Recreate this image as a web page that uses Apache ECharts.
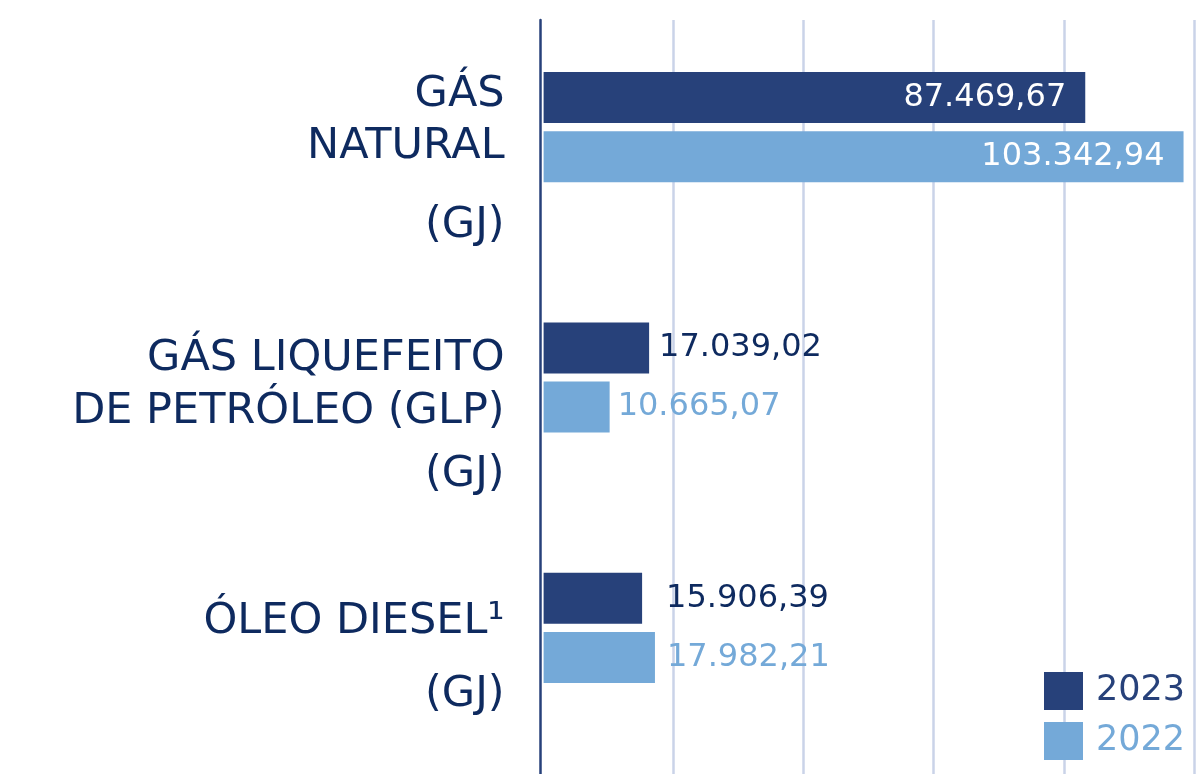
<!DOCTYPE html>
<html>
<head>
<meta charset="utf-8">
<script src="https://cdn.jsdelivr.net/npm/echarts@6/dist/echarts.min.js"></script>
<style>
  html, body { margin: 0; padding: 0; background: #ffffff; }
  #chart { width: 1200px; height: 774px; }
</style>
</head>
<body>
<div id="chart"></div>
<script>
// Fuel consumption by source, in GJ
const categories = ['GÁS\nNATURAL\n(GJ)', 'GÁS LIQUEFEITO\nDE PETRÓLEO (GLP)\n(GJ)', 'ÓLEO DIESEL¹\n(GJ)'];
const seriesNames = ['2023', '2022'];
const values2023 = [87469.67, 17039.02, 15906.39];
const values2022 = [103342.94, 10665.07, 17982.21];

// Value axis scale and background rules
const axisMax = 106000;
const gridInterval = 21000;

const colors = { dark: '#27417A', light: '#74A9D8', text: '#0E2A5F' };
const FONT = 'DejaVu Sans';

// Per-category line heights for the multi-line axis names: [spacer, line heights...]
const nameLayout = [
  { spacer: 94, lines: [52, 52, 107] },
  { spacer: 89, lines: [53, 53, 74] },
  { spacer: 60, lines: [73, 73] }
];
// Gap between a bar end and its value label
const labelGap = [[10, 10, 24], [10, 8, 12]];

function fmtBR(v) {
  const parts = v.toFixed(2).split('.');
  const intPart = parts[0].replace(/\B(?=(\d{3})+(?!\d))/g, '.');
  return intPart + ',' + parts[1];
}

const rich = {};
nameLayout.forEach((l, i) => {
  rich['sp' + i] = { fontSize: 10, lineHeight: l.spacer };
  l.lines.forEach((h, j) => {
    rich['l' + i + '_' + j] = {
      fontFamily: FONT, fontSize: 43, color: colors.text, lineHeight: h, align: 'right'
    };
  });
});

function nameFormatter(value, index) {
  const lines = value.split('\n');
  let s = '{sp' + index + '| }';
  lines.forEach((t, j) => { s += '\n{l' + index + '_' + j + '|' + t + '}'; });
  return s;
}

function buildData(values, si) {
  return values.map((v, i) => {
    const inside = v > 50000;
    return {
      value: v,
      label: inside
        ? { position: 'insideRight', color: '#ffffff', distance: 19 }
        : { position: 'right', color: si === 0 ? colors.text : colors.light, distance: labelGap[si][i] }
    };
  });
}

const chart = echarts.init(document.getElementById('chart'), null, { renderer: 'canvas' });

const series = [values2023, values2022].map((vals, si) => ({
  name: seriesNames[si],
  type: 'bar',
  xAxisIndex: 1,
  yAxisIndex: 1,
  barWidth: 51,
  barGap: '16%',
  itemStyle: { color: si === 0 ? colors.dark : colors.light },
  label: {
    show: true,
    fontFamily: FONT,
    fontSize: 32,
    formatter: p => fmtBR(p.value)
  },
  z: 3,
  data: buildData(vals, si)
}));

chart.setOption({
  animation: false,
  backgroundColor: '#ffffff',
  grid: [
    // background rules
    { left: 543.6, right: 0, top: 20, bottom: 0 },
    // bars and category names
    { left: 543.6, right: 0, top: 2, height: 751 },
    // left axis rule
    { left: 540.6, right: 0, top: 20, bottom: 0 }
  ],
  xAxis: [
    {
      gridIndex: 0, type: 'value', min: 0, max: axisMax, interval: gridInterval,
      axisLine: { show: false }, axisTick: { show: false }, axisLabel: { show: false },
      splitLine: { show: true, showMinLine: false, showMaxLine: false, lineStyle: { color: '#CAD3E8', width: 2.5 } }
    },
    {
      gridIndex: 1, type: 'value', min: 0, max: axisMax, show: false,
      splitLine: { show: false }
    },
    {
      gridIndex: 2, type: 'value', min: 0, max: axisMax, show: false,
      splitLine: { show: false }
    }
  ],
  yAxis: [
    {
      gridIndex: 0, type: 'category', data: categories, inverse: true,
      axisLine: { show: false }, axisTick: { show: false }, axisLabel: { show: false }, splitLine: { show: false }
    },
    {
      gridIndex: 1, type: 'category', data: categories, inverse: true,
      axisLine: { show: false }, axisTick: { show: false }, splitLine: { show: false },
      axisLabel: {
        margin: 39,
        align: 'right',
        formatter: nameFormatter,
        rich: rich
      }
    },
    {
      gridIndex: 2, type: 'category', data: categories, inverse: true,
      axisLine: { show: true, onZero: false, lineStyle: { color: colors.dark, width: 2.5 } },
      axisTick: { show: false }, axisLabel: { show: false }, splitLine: { show: false }
    }
  ],
  legend: {
    orient: 'vertical',
    left: 1044,
    top: 672,
    padding: 0,
    itemWidth: 39,
    itemHeight: 38,
    itemGap: 12,
    icon: 'rect',
    selectedMode: false,
    textStyle: { fontFamily: FONT, fontSize: 35, padding: [0, 0, 0, 8] },
    data: [
      { name: seriesNames[0], textStyle: { color: colors.dark } },
      { name: seriesNames[1], textStyle: { color: colors.light } }
    ]
  },
  series: series
});
</script>
</body>
</html>
